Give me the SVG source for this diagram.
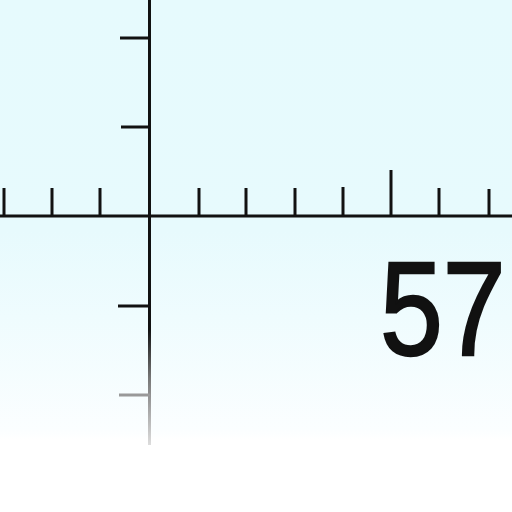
<svg xmlns="http://www.w3.org/2000/svg" width="512" height="512" viewBox="0 0 512 512">
<defs>
<linearGradient id="bg" x1="0" y1="0" x2="0" y2="1">
<stop offset="0" stop-color="#e6fafd"/>
<stop offset="0.45" stop-color="#e7fafd"/>
<stop offset="0.62" stop-color="#effcfe"/>
<stop offset="0.84" stop-color="#fbfeff"/>
<stop offset="0.86" stop-color="#ffffff"/>
<stop offset="1" stop-color="#ffffff"/>
</linearGradient>
<linearGradient id="vfade" gradientUnits="userSpaceOnUse" x1="0" y1="0" x2="0" y2="445">
<stop offset="0" stop-color="#111"/>
<stop offset="0.74" stop-color="#111"/>
<stop offset="0.85" stop-color="#777"/>
<stop offset="1" stop-color="#ddd"/>
</linearGradient>
<style>
.ax{stroke:#111;stroke-width:3;fill:none;stroke-linecap:butt}
.tk{stroke:#111;stroke-width:3;fill:none}
</style>
</defs>
<rect x="0" y="0" width="512" height="512" fill="url(#bg)"/>
<g id="axes">
<line class="ax" x1="0" y1="216" x2="512" y2="216"/>
<line x1="149.5" y1="0" x2="149.5" y2="445" stroke="url(#vfade)" stroke-width="3"/>
</g>
<g id="xticks">
<line class="tk" x1="4" y1="216" x2="4" y2="188"/>
<line class="tk" x1="52" y1="216" x2="52" y2="188"/>
<line class="tk" x1="100" y1="216" x2="100" y2="188"/>
<line class="tk" x1="199" y1="216" x2="199" y2="188"/>
<line class="tk" x1="246" y1="216" x2="246" y2="188"/>
<line class="tk" x1="295" y1="216" x2="295" y2="188"/>
<line class="tk" x1="343" y1="216" x2="343" y2="187"/>
<line class="tk" x1="391" y1="216" x2="391" y2="170"/>
<line class="tk" x1="439" y1="216" x2="439" y2="188"/>
<line class="tk" x1="489" y1="216" x2="489" y2="189"/>
</g>
<g id="yticks">
<line class="tk" x1="120" y1="38" x2="150" y2="38"/>
<line class="tk" x1="121" y1="127" x2="150" y2="127"/>
<line class="tk" x1="118" y1="306" x2="150" y2="306"/>
<line x1="119" y1="395" x2="150" y2="395" stroke="#999" stroke-width="3"/>
</g>
<g id="label">
<text transform="translate(380,355) scale(1,1.19)" x="0" y="0" font-family="Liberation Sans, Arial, sans-serif" font-size="113" fill="#111" stroke="#111" stroke-width="2">57</text>
</g>
</svg>
